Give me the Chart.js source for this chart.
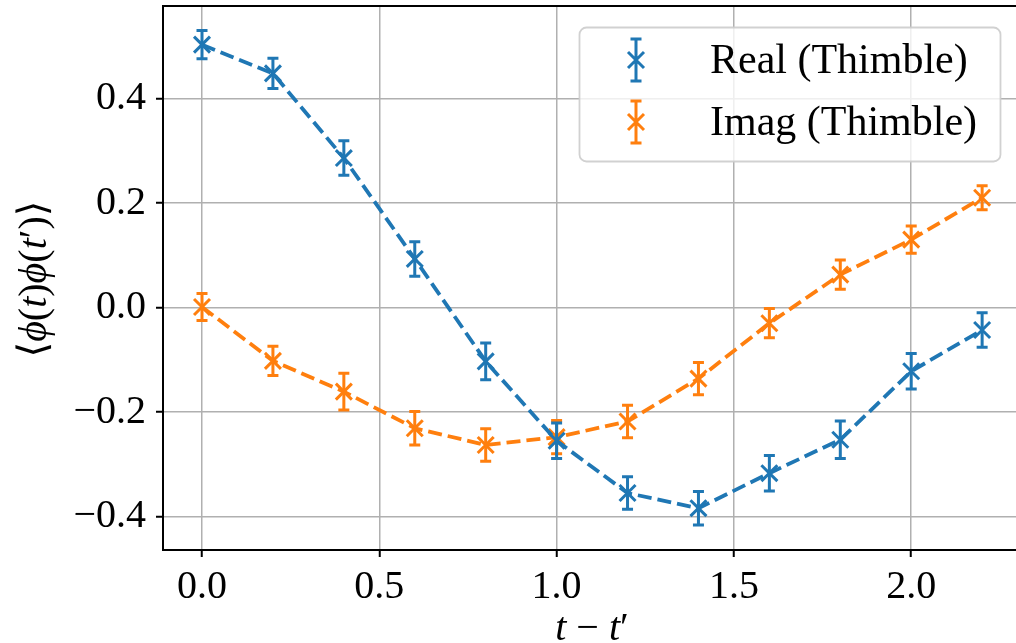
<!DOCTYPE html>
<html>
<head>
<meta charset="utf-8">
<script src="https://cdn.jsdelivr.net/npm/chart.js@4.4.0/dist/chart.umd.min.js"></script>
<style>
  html, body { margin: 0; padding: 0; background: #ffffff; }
  #chart_area { width: 1016px; height: 643px; }
</style>
</head>
<body>
<div id="chart_area"><canvas id="correlator" width="1016" height="643"></canvas></div>
<script>
// Time separations t - t'
var timeSteps = [0.0, 0.2, 0.4, 0.6, 0.8, 1.0, 1.2, 1.4, 1.6, 1.8, 2.0, 2.2];

// Real part of the correlator and its errors
var realValues = [0.503, 0.448, 0.286, 0.093, -0.103, -0.255, -0.355, -0.384, -0.317, -0.253, -0.122, -0.043];
var realErrors = [0.027, 0.029, 0.033, 0.033, 0.035, 0.034, 0.031, 0.032, 0.034, 0.036, 0.034, 0.033];

// Imaginary part of the correlator and its errors
var imagValues = [0.001, -0.102, -0.161, -0.231, -0.263, -0.248, -0.218, -0.136, -0.030, 0.063, 0.130, 0.210];
var imagErrors = [0.026, 0.028, 0.035, 0.032, 0.031, 0.032, 0.031, 0.031, 0.028, 0.028, 0.026, 0.023];

var seriesNames = ["Real (Thimble)", "Imag (Thimble)"];
var seriesColors = ["#1f77b4", "#ff7f0e"];

// Axis ticks
var xTickValues = [0.0, 0.5, 1.0, 1.5, 2.0];
var xTickLabels = ["0.0", "0.5", "1.0", "1.5", "2.0"];
var yTickValues = [-0.4, -0.2, 0.0, 0.2, 0.4];
var yTickLabels = ["\u22120.4", "\u22120.2", "0.0", "0.2", "0.4"];

var serifFont = "'Liberation Serif', 'DejaVu Serif', serif";

/**
 * Draws a string made of upright and italic pieces, centred on (x, y).
 */
function draw_mixed_text(ctx, parts, x, y, size) {
    let total = 0;
    parts.forEach(function (p) {
        ctx.font = (p[1] === "i" ? "italic " : "") + size + "px " + serifFont;
        p.push(ctx.measureText(p[0]).width);
        total += p[2];
    });
    let cx = x - total / 2;
    ctx.textAlign = "left";
    parts.forEach(function (p) {
        ctx.font = (p[1] === "i" ? "italic " : "") + size + "px " + serifFont;
        ctx.fillText(p[0], cx, y);
        cx += p[2];
    });
}

/**
 * Keeps the plot area where it is: no extra room for half tick labels.
 */
function clear_padding(scale) {
    scale.paddingTop = 0;
    scale.paddingBottom = 0;
    scale.paddingLeft = 0;
    scale.paddingRight = 0;
}

// Vertical error bars with caps, drawn right after each dataset
const errorBarPlugin = {
    id: "errorBars",
    afterDatasetDraw: function (chart, args) {
        const ds = chart.data.datasets[args.index];
        const ctx = chart.ctx;
        const xs = chart.scales.x, ys = chart.scales.y;
        const area = chart.chartArea;
        ctx.save();
        ctx.beginPath();
        ctx.rect(area.left, area.top, area.right - area.left, area.bottom - area.top);
        ctx.clip();
        ctx.strokeStyle = ds.borderColor;
        ctx.lineWidth = 3;
        ds.data.forEach(function (pt, i) {
            const px = xs.getPixelForValue(pt.x);
            const top = ys.getPixelForValue(pt.y + ds.errors[i]);
            const bottom = ys.getPixelForValue(pt.y - ds.errors[i]);
            ctx.beginPath();
            ctx.moveTo(px, top);
            ctx.lineTo(px, bottom);
            ctx.moveTo(px - 5.5, top);
            ctx.lineTo(px + 5.5, top);
            ctx.moveTo(px - 5.5, bottom);
            ctx.lineTo(px + 5.5, bottom);
            ctx.stroke();
        });
        ctx.restore();
    }
};

// Top spine, axis titles and the legend box
const decorPlugin = {
    id: "decor",
    afterDraw: function (chart) {
        const ctx = chart.ctx;
        const area = chart.chartArea;
        ctx.save();

        // top spine
        ctx.strokeStyle = "#000000";
        ctx.lineWidth = 2;
        ctx.beginPath();
        ctx.moveTo(area.left - 1, area.top);
        ctx.lineTo(chart.width, area.top);
        ctx.stroke();

        // axis titles
        ctx.fillStyle = "#000000";
        ctx.textBaseline = "alphabetic";
        draw_mixed_text(ctx, [["t", "i"], [" \u2212 ", "n"], ["t", "i"], ["\u2032", "n"]], 592, 640, 40);

        ctx.save();
        ctx.translate(46, 279);
        ctx.rotate(-Math.PI / 2);
        draw_mixed_text(ctx, [["\u27E8", "n"], ["\u03D5", "i"], ["(", "n"], ["t", "i"], [")", "n"],
            ["\u03D5", "i"], ["(", "n"], ["t", "i"], ["\u2032", "n"], [")", "n"], ["\u27E9", "n"]], 0, 0, 40);
        ctx.restore();

        // legend
        const bx = 579.5, by = 27.5, bw = 421, bh = 134;
        ctx.beginPath();
        ctx.roundRect(bx, by, bw, bh, 7);
        ctx.fillStyle = "rgba(255,255,255,0.8)";
        ctx.fill();
        ctx.strokeStyle = "rgba(204,204,204,0.9)";
        ctx.lineWidth = 1.8;
        ctx.stroke();

        const rows = [60, 122];
        chart.data.datasets.forEach(function (ds, i) {
            const cx = 636, cy = rows[i];
            ctx.strokeStyle = ds.borderColor;
            ctx.lineWidth = 3;
            ctx.beginPath();
            ctx.moveTo(cx, cy - 21);
            ctx.lineTo(cx, cy + 21);
            ctx.moveTo(cx - 5.5, cy - 21);
            ctx.lineTo(cx + 5.5, cy - 21);
            ctx.moveTo(cx - 5.5, cy + 21);
            ctx.lineTo(cx + 5.5, cy + 21);
            ctx.moveTo(cx - 8, cy - 8);
            ctx.lineTo(cx + 8, cy + 8);
            ctx.moveTo(cx - 8, cy + 8);
            ctx.lineTo(cx + 8, cy - 8);
            ctx.stroke();

            ctx.fillStyle = "#000000";
            ctx.font = "42px " + serifFont;
            ctx.textAlign = "left";
            ctx.textBaseline = "alphabetic";
            ctx.fillText(ds.label, 710, cy + 13);
        });
        ctx.restore();
    }
};

/**
 * Builds one dashed series with x markers from the value arrays.
 */
function make_series(label, values, errors, color) {
    return {
        label: label,
        data: timeSteps.map(function (t, i) { return { x: t, y: values[i] }; }),
        errors: errors,
        borderColor: color,
        backgroundColor: color,
        borderWidth: 3.8,
        borderDash: [14, 6],
        fill: false,
        tension: 0,
        pointStyle: "crossRot",
        pointRadius: 11.3,
        pointHoverRadius: 11.3,
        pointBorderWidth: 3,
        pointBorderColor: color
    };
}

const tickFont = { family: serifFont, size: 40 };
const gridStyle = {
    color: "#b0b0b0",
    lineWidth: 1.5,
    tickColor: "#000000",
    tickWidth: 2,
    tickLength: 7
};

new Chart(document.getElementById("correlator"), {
    type: "line",
    data: {
        datasets: [
            make_series(seriesNames[0], realValues, realErrors, seriesColors[0]),
            make_series(seriesNames[1], imagValues, imagErrors, seriesColors[1])
        ]
    },
    options: {
        responsive: false,
        animation: false,
        devicePixelRatio: 1,
        layout: { autoPadding: false, padding: { left: 0, top: 6, right: 0, bottom: 0 } },
        plugins: {
            legend: { display: false },
            tooltip: { enabled: false }
        },
        scales: {
            x: {
                type: "linear",
                min: -0.11,
                max: 2.2955,
                afterBuildTicks: function (scale) {
                    scale.ticks = xTickValues.map(function (v) { return { value: v }; });
                },
                afterFit: function (scale) { scale.height = 93; clear_padding(scale); },
                ticks: {
                    autoSkip: false,
                    maxRotation: 0,
                    color: "#000000",
                    font: tickFont,
                    padding: 6,
                    callback: function (value, index) { return xTickLabels[index]; }
                },
                grid: gridStyle,
                border: { display: true, color: "#000000", width: 2 }
            },
            y: {
                type: "linear",
                min: -0.464,
                max: 0.577,
                afterBuildTicks: function (scale) {
                    scale.ticks = yTickValues.map(function (v) { return { value: v }; });
                },
                afterFit: function (scale) { scale.width = 163; clear_padding(scale); },
                ticks: {
                    autoSkip: false,
                    color: "#000000",
                    font: tickFont,
                    padding: 10,
                    callback: function (value, index) { return yTickLabels[index]; }
                },
                grid: gridStyle,
                border: { display: true, color: "#000000", width: 2 }
            }
        }
    },
    plugins: [errorBarPlugin, decorPlugin]
});
</script>
</body>
</html>
